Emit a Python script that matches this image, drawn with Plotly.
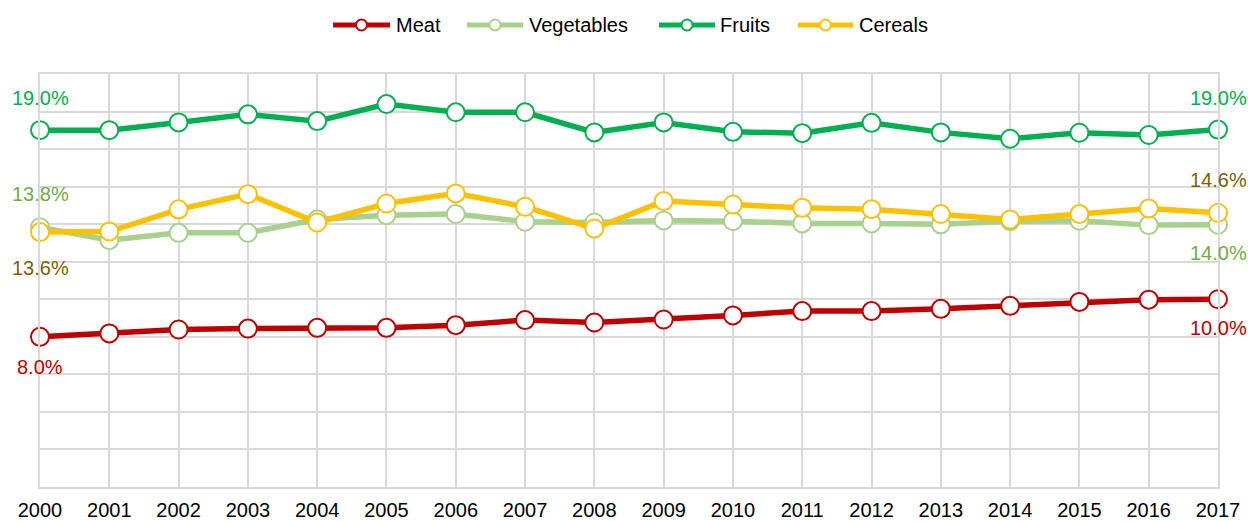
import plotly.graph_objects as go

years = list(range(2000, 2018))
meat = [8.0, 8.18, 8.39, 8.44, 8.48, 8.48, 8.62, 8.89, 8.76, 8.92, 9.14, 9.37, 9.37, 9.49, 9.65, 9.86, 9.98, 10.0]
vegetables = [13.84, 13.15, 13.54, 13.54, 14.25, 14.48, 14.54, 14.13, 14.09, 14.2, 14.16, 14.04, 14.04, 13.99, 14.16, 14.18, 13.95, 13.97]
fruits = [19.01, 19.01, 19.42, 19.85, 19.49, 20.4, 19.96, 19.96, 18.89, 19.42, 18.92, 18.85, 19.40, 18.89, 18.55, 18.87, 18.75, 19.04]
cereals = [13.58, 13.61, 14.79, 15.6, 14.09, 15.1, 15.64, 14.93, 13.77, 15.23, 15.05, 14.87, 14.80, 14.54, 14.25, 14.54, 14.84, 14.61]

series = [
    ("Meat", meat, "#C00000", "#C00000", (-30, -29)),
    ("Vegetables", vegetables, "#A9D18E", "#70AD47", (33, -28)),
    ("Fruits", fruits, "#00B050", "#00B050", (32, 32)),
    ("Cereals", cereals, "#FFC000", "#7F6000", (-36, 33)),
]

# figure geometry (body margin removed by post_script)
W, H = 1248, 521
ML, MR, MT, MB = 40, 30, 74, 34
PW, PH = W - ML - MR, H - MT - MB


def px(X):  # page x pixel -> paper x
    return (X - ML) / PW


def py(Y):  # page y pixel -> paper y
    return (H - MB - Y) / PH


FONT = "Liberation Sans, Arial, sans-serif"
fig = go.Figure()
annotations = []
shapes = []

# custom legend geometry (page pixels): line start, line end, text start
legend_pos = [(333, 390, 394), (467, 523, 527), (659, 715, 718), (798, 853, 857)]
LEG_Y = 25

for (name, vals, color, lab_color, shifts), (lx0, lx1, tx) in zip(series, legend_pos):
    fig.add_trace(go.Scatter(
        x=years, y=vals, name=name, mode="lines+markers",
        line=dict(color=color, width=5.5),
        marker=dict(size=18, color="white", line=dict(color=color, width=2)),
        cliponaxis=False, showlegend=False,
    ))
    for idx, sh in zip((0, len(vals) - 1), shifts):
        annotations.append(dict(
            x=years[idx], y=vals[idx], xref="x", yref="y",
            text=f"{vals[idx]:.1f}%", showarrow=False, yshift=sh,
            font=dict(family=FONT, size=20, color=lab_color),
        ))
    # legend line
    shapes.append(dict(type="line", xref="paper", yref="paper",
                       x0=px(lx0), x1=px(lx1), y0=py(LEG_Y), y1=py(LEG_Y),
                       line=dict(color=color, width=5), layer="above"))
    cx = (lx0 + lx1) / 2
    r = 5.5
    shapes.append(dict(type="circle", xref="paper", yref="paper",
                       x0=px(cx - r), x1=px(cx + r), y0=py(LEG_Y + r), y1=py(LEG_Y - r),
                       fillcolor="white", line=dict(color=color, width=2), layer="above"))
    annotations.append(dict(x=px(tx), y=py(LEG_Y), xref="paper", yref="paper",
                            xanchor="left", yanchor="middle", text=name, showarrow=False,
                            font=dict(family=FONT, size=20, color="#000000")))

grid = "#D9D9D9"
fig.update_layout(
    width=W, height=H,
    margin=dict(l=ML, r=MR, t=MT, b=MB, autoexpand=False),
    paper_bgcolor="white", plot_bgcolor="white",
    font=dict(family=FONT, color="#000000"),
    showlegend=False,
    annotations=annotations,
    shapes=shapes,
    xaxis=dict(range=[2000, 2017], tickmode="linear", dtick=1, tick0=2000,
               showgrid=True, gridcolor=grid, gridwidth=1.5,
               showline=True, linecolor=grid, linewidth=1.5, mirror=True,
               zeroline=False, ticks="outside", ticklen=4, tickcolor="rgba(0,0,0,0)",
               automargin=False,
               tickfont=dict(family=FONT, size=20, color="#000000")),
    yaxis=dict(range=[0, 22], dtick=2, showticklabels=False,
               showgrid=True, gridcolor=grid, gridwidth=1.5,
               showline=True, linecolor=grid, linewidth=1.5, mirror=True,
               zeroline=False, automargin=False),
)
fig.write_html(
    "out.html",
    config={"displayModeBar": False},
    post_script="document.body.style.margin='0';document.body.style.overflow='hidden';"
                "document.documentElement.style.overflow='hidden';",
)
